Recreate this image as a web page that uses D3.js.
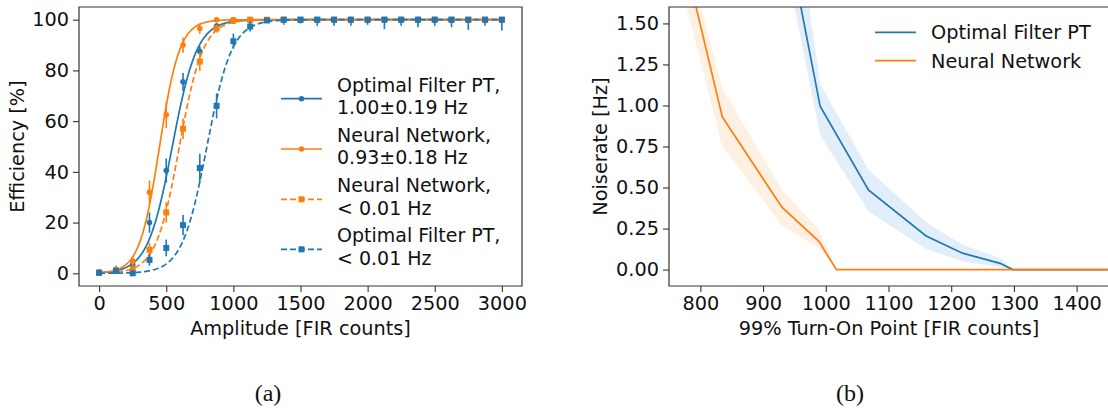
<!DOCTYPE html>
<html>
<head>
<meta charset="utf-8">
<script src="https://cdn.jsdelivr.net/npm/d3@7"></script>
<style>
  html, body { margin: 0; padding: 0; background: #fff; }
  svg { display: block; }
  text { font-family: "DejaVu Sans", sans-serif; fill: #111; }
</style>
</head>
<body>
<svg id="fig" width="1108" height="408"></svg>
<script>
// ── Panel (a): efficiency vs amplitude ──────────────────────────────────────
const ampX = [0, 125, 250, 375, 500, 625, 750, 875, 1000, 1125, 1250, 1375, 1500,
              1625, 1750, 1875, 2000, 2125, 2250, 2375, 2500, 2625, 2750, 2875, 3000];

const ofptFastEff = [0.5, 1.5, 3.5, 20, 40.5, 75.5, 87.5, 97.5, 99.5, 99.8, 100, 100, 100,
                     100, 100, 100, 100, 100, 100, 100, 100, 100, 100, 100, 100];
const ofptFastErr = [0.8, 1.5, 1.8, 4, 4.8, 3.5, 2, 1.2, 0.8, 0.5, 0.5, 0.5, 0.5,
                     0.5, 0.5, 0.5, 0.5, 0.5, 0.5, 0.5, 0.5, 0.5, 0.5, 0.5, 0.5];

const nnFastEff = [0.5, 1.5, 4.8, 32, 62.5, 90, 96.5, 100, 100, 100, 100, 100, 100,
                   100, 100, 100, 100, 100, 100, 100, 100, 100, 100, 100, 100];
const nnFastErr = [0.8, 1.5, 2, 4.6, 5.2, 3, 2, 0.5, 0.5, 0.5, 0.5, 0.5, 0.5,
                   0.5, 0.5, 0.5, 0.5, 0.5, 0.5, 0.5, 0.5, 0.5, 0.5, 0.5, 0.5];

const nnSlowEff = [0.3, 1, 1.5, 9.3, 24, 57, 83.5, 96.5, 99.7, 100, 100, 100, 100,
                   100, 100, 100, 100, 100, 100, 100, 100, 100, 100, 100, 100];
const nnSlowErr = [0.5, 1, 1.2, 2.8, 4, 4, 3.6, 1.6, 0.8, 0.5, 0.5, 0.5, 0.5,
                   0.5, 0.5, 0.5, 0.5, 0.5, 0.5, 0.5, 0.5, 0.5, 0.5, 0.5, 0.5];

const ofptSlowEff = [0.2, 1, 0, 5.3, 10, 19, 41.5, 66, 91.5, 97.3, 99.7, 100, 100,
                     100, 100, 100, 100, 100, 100, 100, 100, 100, 100, 100, 100];
const ofptSlowErr = [0.5, 1, 1.2, 2.3, 3.3, 4, 5.6, 4.9, 3, 2, 1, 2, 1.5,
                     2.4, 2.4, 2.4, 2, 3.7, 2.4, 3, 2.4, 3, 4, 2.4, 4.3];

// fitted turn-on curves (logistic): centre and width per series
const fitCentre = [545, 450, 598, 803];
const fitWidth  = [92, 75, 88, 93];

const seriesLabels = [
  ['Optimal Filter PT,', '1.00\u00B10.19 Hz'],
  ['Neural Network,', '0.93\u00B10.18 Hz'],
  ['Neural Network,', '< 0.01 Hz'],
  ['Optimal Filter PT,', '< 0.01 Hz'],
];

// ── Panel (b): noise rate vs 99% turn-on point ─────────────────────────────
const ofTurnOn = [940, 991, 1068, 1160, 1218, 1278, 1298, 1470];
const ofRate   = [2.0, 0.995, 0.485, 0.205, 0.1, 0.038, 0, 0];
const ofRateLo = [1.79, 0.82, 0.355, 0.126, 0.05, 0.016, 0, 0];
const ofRateHi = [2.51, 1.13, 0.608, 0.288, 0.152, 0.071, 0, 0];

const nnTurnOn = [745, 835, 930, 989, 1017, 1470];
const nnRate   = [2.37, 0.93, 0.38, 0.172, 0, 0];
const nnRateLo = [2.09, 0.75, 0.27, 0.13, 0, 0];
const nnRateHi = [2.42, 1.105, 0.487, 0.243, 0, 0];

// ── Styling ────────────────────────────────────────────────────────────────
const BLUE = '#1f77b4';
const ORANGE = '#ff7f0e';
const BLUE_BAND = '#e2eefa';
const ORANGE_BAND = '#fef0e3';
const FONT = 19.3;
const LEGEND_FONT = 19;
const SPINE = '#333';

const svg = d3.select('#fig');
const defs = svg.append('defs');

function styleAxis(g) {
  g.select('.domain').remove();
  g.selectAll('.tick line').attr('stroke', SPINE).attr('stroke-width', 1.1);
  g.selectAll('.tick text').attr('font-size', FONT).attr('fill', '#111')
    .attr('font-family', '"DejaVu Sans", sans-serif');
}

function frame(g, x0, y0, x1, y1, drawRight) {
  const path = drawRight
    ? `M${x0},${y0}H${x1}V${y1}H${x0}Z`
    : `M${x1},${y0}H${x0}V${y1}H${x1}`;
  g.append('path').attr('d', path).attr('fill', 'none')
    .attr('stroke', SPINE).attr('stroke-width', 1.2);
}

// ── Panel (a) ──────────────────────────────────────────────────────────────
(function () {
  const L = 79, R = 522, T = 7, B = 286;
  const x = d3.scaleLinear().domain([-150, 3150]).range([L, R]);
  const y = d3.scaleLinear().domain([-5, 105]).range([B, T]);
  const g = svg.append('g');

  defs.append('clipPath').attr('id', 'clipA')
    .append('rect').attr('x', L).attr('y', T).attr('width', R - L).attr('height', B - T);

  g.append('g').attr('transform', `translate(0,${B})`)
    .call(d3.axisBottom(x).tickValues(d3.range(0, 3001, 500)).tickFormat(d3.format('d'))
      .tickSize(6).tickPadding(4))
    .call(styleAxis);
  g.append('g').attr('transform', `translate(${L},0)`)
    .call(d3.axisLeft(y).tickValues(d3.range(0, 101, 20)).tickSize(6).tickPadding(4))
    .call(styleAxis);

  const series = [
    { eff: ofptFastEff, err: ofptFastErr, color: BLUE,   dashed: false, marker: 'circle' },
    { eff: nnFastEff,   err: nnFastErr,   color: ORANGE, dashed: false, marker: 'circle' },
    { eff: nnSlowEff,   err: nnSlowErr,   color: ORANGE, dashed: true,  marker: 'square' },
    { eff: ofptSlowEff, err: ofptSlowErr, color: BLUE,   dashed: true,  marker: 'square' },
  ];

  const plot = g.append('g').attr('clip-path', 'url(#clipA)');
  const grid = d3.range(0, 3001, 10);
  const line = d3.line().x(d => x(d[0])).y(d => y(d[1]));

  series.forEach((s, i) => {
    const mu = fitCentre[i], w = fitWidth[i];
    const fit = grid.map(a => [a, 100 / (1 + Math.exp(-(a - mu) / w))]);
    plot.append('path').attr('d', line(fit)).attr('fill', 'none')
      .attr('stroke', s.color).attr('stroke-width', 1.7)
      .attr('stroke-dasharray', s.dashed ? '6,3' : null);

    const pts = ampX.map((a, k) => ({ a, v: s.eff[k], e: s.err[k] }));
    plot.append('g').selectAll('line').data(pts).join('line')
      .attr('x1', d => x(d.a)).attr('x2', d => x(d.a))
      .attr('y1', d => y(Math.max(0, d.v - d.e)))
      .attr('y2', d => y(Math.min(100, d.v + d.e)))
      .attr('stroke', s.color).attr('stroke-width', 1.6);

    if (s.marker === 'circle') {
      plot.append('g').selectAll('circle').data(pts).join('circle')
        .attr('cx', d => x(d.a)).attr('cy', d => y(d.v)).attr('r', 2.8)
        .attr('fill', s.color);
    } else {
      plot.append('g').selectAll('rect').data(pts).join('rect')
        .attr('x', d => x(d.a) - 3).attr('y', d => y(d.v) - 3)
        .attr('width', 6).attr('height', 6).attr('fill', s.color);
    }
  });

  frame(g, L, T, R, B, true);

  // legend — two-line labels
  const lg = g.append('g');
  const handleY = [98.7, 149, 199.3, 249.3];
  series.forEach((s, i) => {
    const hy = handleY[i];
    lg.append('line').attr('x1', 281).attr('x2', 322).attr('y1', hy).attr('y2', hy)
      .attr('stroke', s.color).attr('stroke-width', 1.7)
      .attr('stroke-dasharray', s.dashed ? '6,3' : null);
    if (s.marker === 'circle') {
      lg.append('circle').attr('cx', 301.5).attr('cy', hy).attr('r', 2.8).attr('fill', s.color);
    } else {
      lg.append('rect').attr('x', 298.5).attr('y', hy - 3).attr('width', 6).attr('height', 6)
        .attr('fill', s.color);
    }
    const t = lg.append('text').attr('font-size', LEGEND_FONT);
    t.append('tspan').attr('x', 337).attr('y', hy - 7).text(seriesLabels[i][0]);
    t.append('tspan').attr('x', 337).attr('y', hy + 15.3).text(seriesLabels[i][1]);
  });

  g.append('text').attr('x', (L + R) / 2).attr('y', 335).attr('text-anchor', 'middle')
    .attr('font-size', FONT).text('Amplitude [FIR counts]');
  g.append('text').attr('transform', `translate(24,${(T + B) / 2}) rotate(-90)`)
    .attr('text-anchor', 'middle').attr('font-size', FONT).text('Efficiency [%]');
  g.append('text').attr('x', 268).attr('y', 401).attr('text-anchor', 'middle')
    .style('font-family', '"Liberation Serif", serif')
    .attr('font-size', 24).text('(a)');
})();

// ── Panel (b) ──────────────────────────────────────────────────────────────
(function () {
  const L = 669, R = 1108, T = 7, B = 286;
  const x = d3.scaleLinear().domain([750, 1450]).range([L, R]);
  const y = d3.scaleLinear().domain([-0.1, 1.6]).range([B, T]);
  const g = svg.append('g');

  defs.append('clipPath').attr('id', 'clipB')
    .append('rect').attr('x', L).attr('y', T).attr('width', R - L).attr('height', B - T);

  g.append('g').attr('transform', `translate(0,${B})`)
    .call(d3.axisBottom(x).tickValues(d3.range(800, 1401, 100)).tickFormat(d3.format('d'))
      .tickSize(6).tickPadding(4))
    .call(styleAxis);
  g.append('g').attr('transform', `translate(${L},0)`)
    .call(d3.axisLeft(y).tickValues([0, 0.25, 0.5, 0.75, 1, 1.25, 1.5]).tickFormat(d3.format('.2f'))
      .tickSize(6).tickPadding(4))
    .call(styleAxis);

  const plot = g.append('g').attr('clip-path', 'url(#clipB)');
  const curves = [
    { xs: ofTurnOn, ys: ofRate, lo: ofRateLo, hi: ofRateHi, color: BLUE, band: BLUE_BAND },
    { xs: nnTurnOn, ys: nnRate, lo: nnRateLo, hi: nnRateHi, color: ORANGE, band: ORANGE_BAND },
  ];
  const area = d3.area().x(d => x(d.x)).y0(d => y(d.lo)).y1(d => y(d.hi));
  const line = d3.line().x(d => x(d.x)).y(d => y(d.y));

  curves.forEach(c => {
    const pts = c.xs.map((v, k) => ({ x: v, y: c.ys[k], lo: c.lo[k], hi: c.hi[k] }));
    plot.append('path').attr('d', area(pts)).attr('fill', c.band);
  });
  curves.forEach(c => {
    const pts = c.xs.map((v, k) => ({ x: v, y: c.ys[k] }));
    plot.append('path').attr('d', line(pts)).attr('fill', 'none')
      .attr('stroke', c.color).attr('stroke-width', 1.7);
  });

  frame(g, L, T, R + 2, B, false);

  const lg = g.append('g');
  [['Optimal Filter PT', BLUE, 32.3], ['Neural Network', ORANGE, 60.7]].forEach(([lab, col, hy]) => {
    lg.append('line').attr('x1', 875).attr('x2', 916).attr('y1', hy).attr('y2', hy)
      .attr('stroke', col).attr('stroke-width', 1.7);
    lg.append('text').attr('x', 931).attr('y', hy + 7).attr('font-size', FONT).text(lab);
  });

  g.append('text').attr('x', 889).attr('y', 335).attr('text-anchor', 'middle')
    .attr('font-size', FONT).text('99% Turn-On Point [FIR counts]');
  g.append('text').attr('transform', `translate(607,${(T + B) / 2}) rotate(-90)`)
    .attr('text-anchor', 'middle').attr('font-size', FONT).text('Noiserate [Hz]');
  g.append('text').attr('x', 850).attr('y', 401).attr('text-anchor', 'middle')
    .style('font-family', '"Liberation Serif", serif')
    .attr('font-size', 24).text('(b)');
})();
</script>
</body>
</html>
